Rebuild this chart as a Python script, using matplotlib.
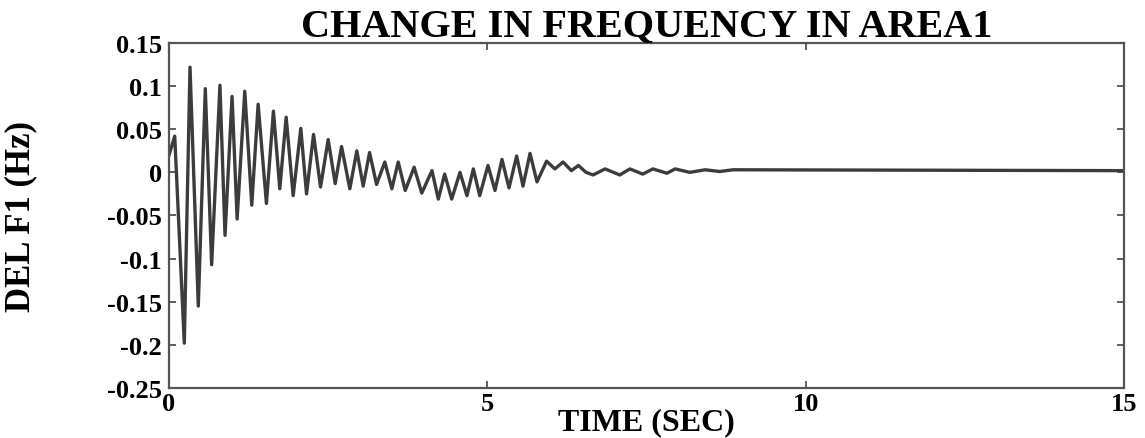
import numpy as np
import matplotlib
matplotlib.use('Agg')
import matplotlib.pyplot as plt

# peaks / troughs of the frequency deviation
time_s = [0.00, 0.09, 0.24, 0.33, 0.46, 0.57, 0.67, 0.80, 0.88, 0.99,
          1.07, 1.19, 1.30, 1.40, 1.53, 1.64, 1.74, 1.84, 1.95, 2.07,
          2.16, 2.27, 2.38, 2.50, 2.61, 2.71, 2.84, 2.95, 3.05, 3.15,
          3.26, 3.39, 3.50, 3.60, 3.71, 3.85, 3.97, 4.13, 4.23, 4.33,
          4.44, 4.57, 4.68, 4.78, 4.88, 5.01, 5.12, 5.23, 5.34, 5.46,
          5.56, 5.67, 5.78, 5.93, 6.06, 6.19, 6.32, 6.43, 6.55, 6.66,
          6.85, 7.08, 7.24, 7.44, 7.60, 7.82, 7.95, 8.18, 8.42, 8.65,
          8.86, 15.0]
del_f1 = [0.020, 0.042, -0.198, 0.122, -0.155, 0.097, -0.107, 0.101, -0.073, 0.088,
          -0.054, 0.094, -0.038, 0.079, -0.036, 0.071, -0.019, 0.064, -0.027, 0.051,
          -0.025, 0.044, -0.017, 0.038, -0.013, 0.030, -0.019, 0.025, -0.016, 0.023,
          -0.014, 0.012, -0.019, 0.012, -0.021, 0.006, -0.024, 0.002, -0.031, -0.002,
          -0.031, 0.000, -0.027, 0.004, -0.027, 0.008, -0.021, 0.015, -0.018, 0.019,
          -0.016, 0.022, -0.011, 0.013, 0.004, 0.012, 0.002, 0.008, 0.000, -0.003,
          0.004, -0.003, 0.004, -0.002, 0.004, -0.001, 0.004, 0.000, 0.003, 0.001,
          0.003, 0.002]

xticks = [0, 5, 10, 15]
yticks = [0.15, 0.1, 0.05, 0, -0.05, -0.1, -0.15, -0.2, -0.25]
ytick_labels = ['0.15', '0.1', '0.05', '0', '-0.05', '-0.1', '-0.15', '-0.2', '-0.25']

plt.rcParams['font.family'] = ['Liberation Serif', 'DejaVu Serif']
plt.rcParams['font.weight'] = 'bold'

fig = plt.figure(figsize=(11.45, 4.39), dpi=100)
ax = fig.add_axes([0.1476, 0.1139, 0.8341, 0.7859])

ax.plot(time_s, del_f1, color='#3c3c3c', lw=2.4)

ax.set_xlim(0, 15)
ax.set_ylim(-0.25, 0.15)
ax.set_xticks(xticks)
ax.set_xticklabels([str(x) for x in xticks], fontsize=19, fontweight='bold')
ax.set_yticks(yticks)
ax.set_yticklabels(ytick_labels, fontsize=19, fontweight='bold')
ax.tick_params(direction='in', length=5, width=1.2, top=True, right=True,
               color='#444444')
ax.tick_params(axis='x', pad=3)
ax.tick_params(axis='y', pad=5)
for s in ax.spines.values():
    s.set_linewidth(1.6)
    s.set_color('#555555')

ax.set_title('CHANGE IN FREQUENCY IN AREA1', fontsize=29, fontweight='bold', pad=6)
ax.set_xlabel('TIME (SEC)', fontsize=23, fontweight='bold', labelpad=-6)
ax.set_ylabel('DEL F1 (Hz)', fontsize=25, fontweight='bold')
ax.yaxis.set_label_coords(-0.138, 0.5)

fig.savefig('out.png', dpi=100)
